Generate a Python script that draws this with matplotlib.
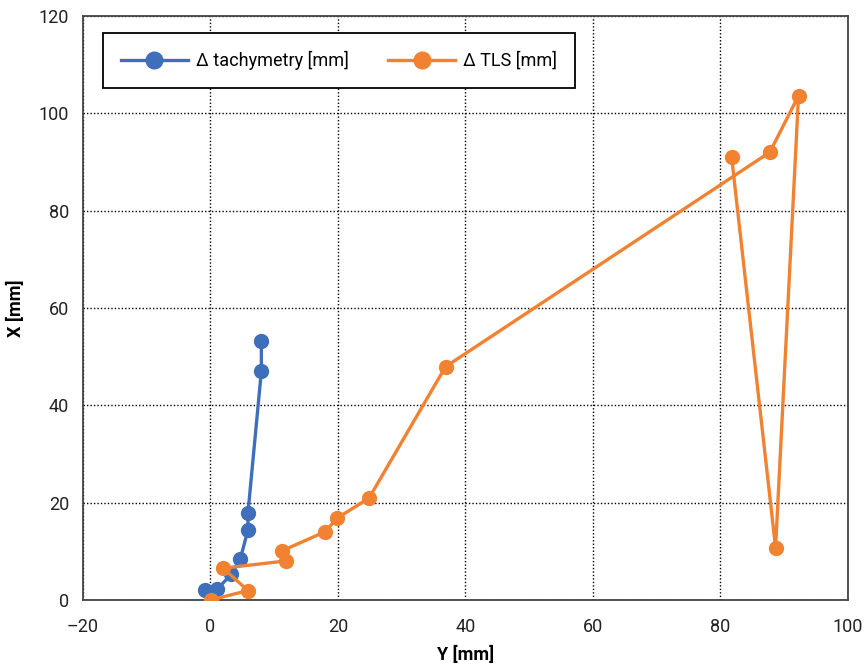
import matplotlib
matplotlib.use("Agg")
import matplotlib.pyplot as plt

# 数据 (Y, X) in mm
tachy_y = [-0.9, 1.1, 3.3, 4.7, 5.9, 5.9, 8.0, 8.0]
tachy_x = [2.0, 2.2, 5.3, 8.4, 14.4, 17.9, 47.0, 53.2]

tls_y = [0.1, 5.9, 2.0, 11.9, 11.3, 18.0, 19.9, 24.9, 36.9, 87.8, 92.3, 88.7, 81.8]
tls_x = [0.0, 1.9, 6.5, 8.0, 10.1, 14.0, 16.8, 20.9, 47.9, 92.0, 103.6, 10.7, 91.0]

labels = ["Δ tachymetry [mm]", "Δ TLS [mm]"]

plt.rcParams["font.family"] = ["Roboto", "DejaVu Sans"]
plt.rcParams["font.size"] = 13

fig = plt.figure(figsize=(8.64, 6.65), dpi=100)
ax = fig.add_axes([0.096, 0.098, 0.885, 0.878])

ax.plot(tachy_y, tachy_x, color="#3F6FBA", linewidth=2.4, marker="o",
        markersize=10, label=labels[0], zorder=3)
ax.plot(tls_y, tls_x, color="#F08232", linewidth=2.4, marker="o",
        markersize=10, label=labels[1], zorder=3)

ax.set_xlim(-20, 100)
ax.set_ylim(0, 120)
ax.set_xticks(range(-20, 101, 20))
ax.set_yticks(range(0, 121, 20))
ax.set_xticklabels(["\u201320" if t < 0 else str(t) for t in range(-20, 101, 20)])
ax.tick_params(length=0, labelsize=13, colors="#222222")
ax.tick_params(axis="x", pad=13)
ax.tick_params(axis="y", pad=10)
ax.grid(True, color="black", linestyle=(0, (1, 1.5)), linewidth=1.0)
ax.set_axisbelow(True)
for s in ax.spines.values():
    s.set_color("#444444")
    s.set_linewidth(1.3)

ax.set_xlabel("Y [mm]", fontweight="bold", fontsize=13, labelpad=7)
ax.set_ylabel("X [mm]", fontweight="bold", fontsize=13, labelpad=10)

leg = ax.legend(loc="upper left", bbox_to_anchor=(0.026, 0.971),
                ncol=2, frameon=True, fancybox=False,
                edgecolor="black", framealpha=1, handlelength=3.7,
                handletextpad=0.45, columnspacing=2.2, borderpad=1.0,
                borderaxespad=0, markerscale=1.2, fontsize=13)
leg.get_frame().set_linewidth(1.3)

fig.savefig("out.png", dpi=100)
